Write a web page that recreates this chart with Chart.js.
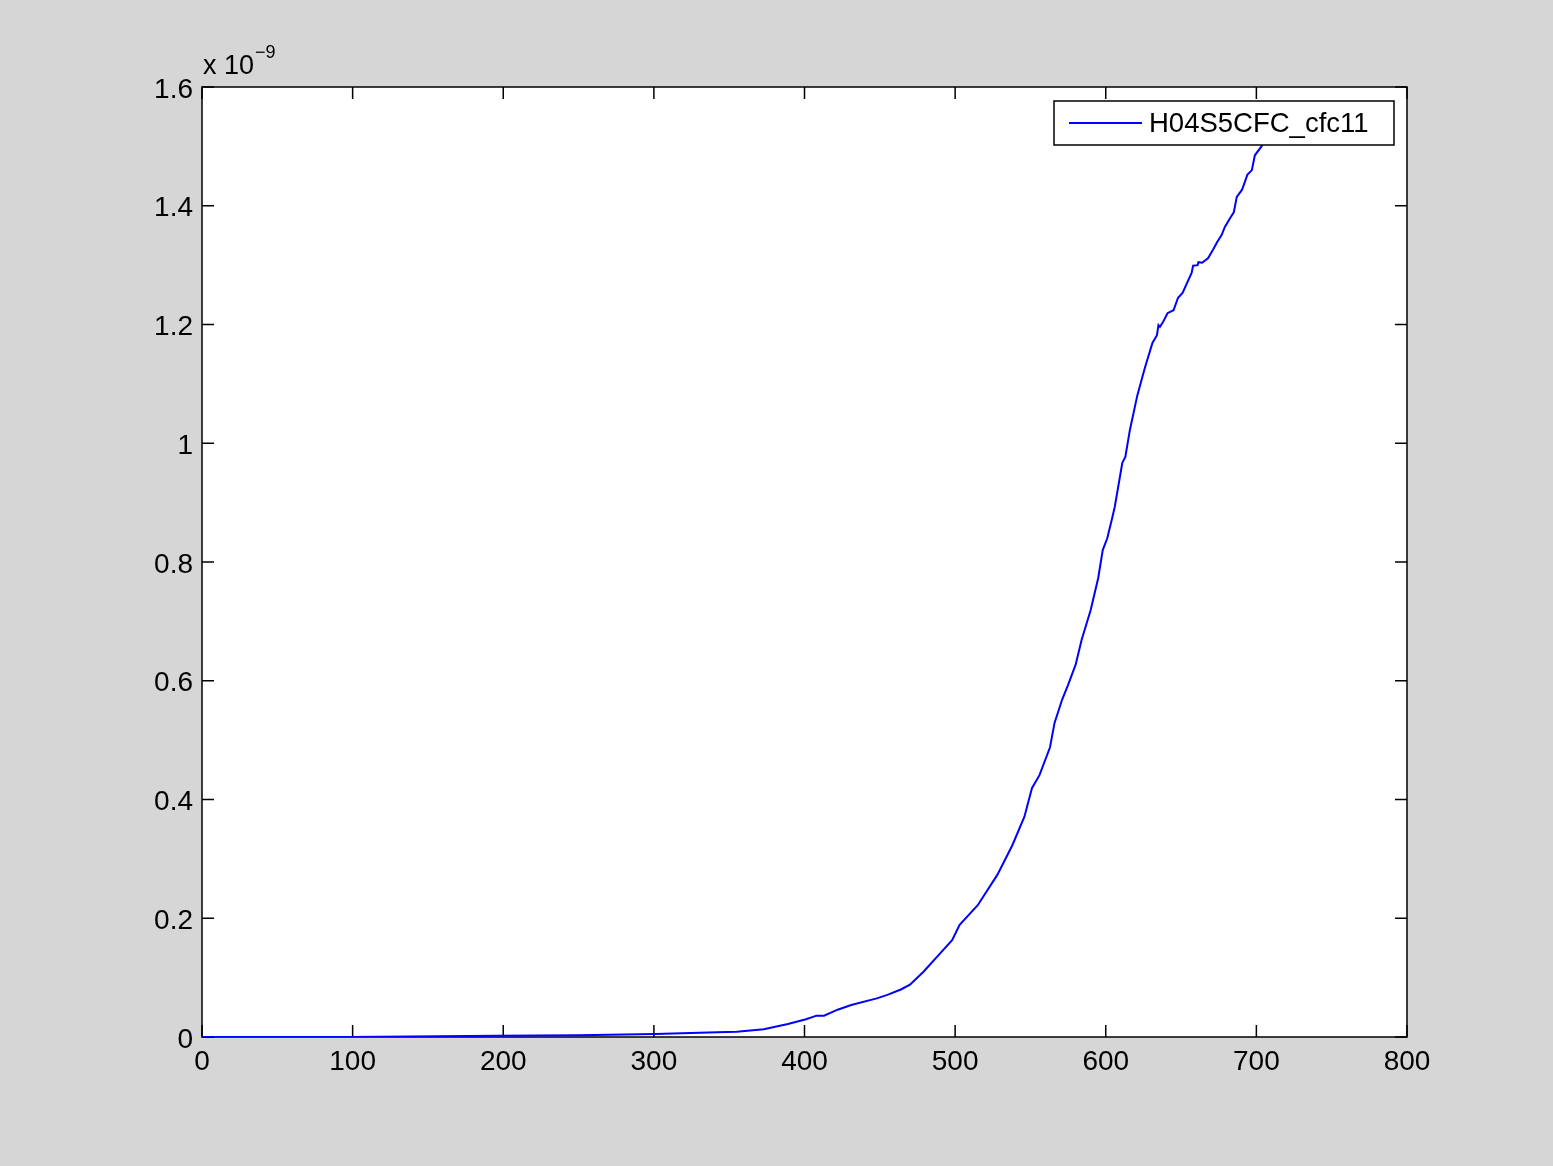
<!DOCTYPE html>
<html lang="en">
<head>
    <meta charset="UTF-8">
    <title>H04S5CFC_cfc11</title>
    <style>
        body {
            margin: 0;
            background: #d6d6d6;
        }
        #chart-container {
            width: 1553px;
            height: 1166px;
        }
    </style>
</head>
<body>
<div id="chart-container">
    <canvas id="cfcChart" width="1553" height="1166"></canvas>
</div>
<script src="https://cdn.jsdelivr.net/npm/chart.js"></script>
<script>
    // values (y in units of 1e-9)
    const seriesLabel = 'H04S5CFC_cfc11';
    const xValues = [0, 98, 196, 250, 301, 342, 355, 373, 389, 401, 408, 413, 422, 431, 448, 455, 464, 470,
        479, 489, 498, 503, 515, 528, 538, 546, 551, 556, 563, 566, 571, 575, 580, 584, 590, 595, 598, 601,
        604, 606, 611, 613, 616, 621, 626, 628, 631, 634, 635, 636, 638, 641, 645, 648, 651, 654, 657, 658,
        661, 661.5, 664, 668, 671, 674, 677, 679, 682.5, 685, 687, 690.5, 694, 697, 699, 704];
    const yValues = [0, 0, 0.002, 0.003, 0.005, 0.008, 0.009, 0.013, 0.022, 0.03, 0.036, 0.036, 0.046, 0.054,
        0.065, 0.071, 0.08, 0.088, 0.11, 0.138, 0.163, 0.189, 0.222, 0.273, 0.323, 0.371, 0.419, 0.441, 0.488,
        0.529, 0.568, 0.593, 0.627, 0.669, 0.719, 0.773, 0.82, 0.84, 0.871, 0.893, 0.967, 0.977, 1.022, 1.081,
        1.127, 1.144, 1.169, 1.182, 1.199, 1.196, 1.204, 1.219, 1.224, 1.245, 1.253, 1.27, 1.287, 1.299, 1.3,
        1.305, 1.304, 1.312, 1.325, 1.339, 1.351, 1.364, 1.379, 1.389, 1.415, 1.427, 1.452, 1.46, 1.485, 1.502];
    const xTicks = [0, 100, 200, 300, 400, 500, 600, 700, 800];
    const yTicks = [0, 0.2, 0.4, 0.6, 0.8, 1, 1.2, 1.4, 1.6];
    const yExponent = '-9';

    const fontFamily = '"Liberation Sans", Arial, Helvetica, sans-serif';
    const points = xValues.map((x, i) => ({x: x, y: yValues[i]}));

    // matlab style box: white axes, frame, inward ticks on all four sides, exponent and legend
    const matlabAxes = {
        id: 'matlabAxes',
        beforeDraw(chart) {
            const ctx = chart.ctx;
            const area = chart.chartArea;
            ctx.save();
            ctx.fillStyle = '#fff';
            ctx.fillRect(area.left, area.top, area.right - area.left, area.bottom - area.top);
            ctx.restore();
        },
        beforeDatasetsDraw(chart) {
            const ctx = chart.ctx;
            const area = chart.chartArea;
            const xs = chart.scales.x;
            const ys = chart.scales.y;
            const tickLen = 12;
            ctx.save();
            ctx.strokeStyle = '#000';
            ctx.lineWidth = 1.5;
            ctx.strokeRect(area.left, area.top, area.right - area.left, area.bottom - area.top);
            ctx.beginPath();
            xTicks.forEach(v => {
                const px = xs.getPixelForValue(v);
                ctx.moveTo(px, area.bottom);
                ctx.lineTo(px, area.bottom - tickLen);
                ctx.moveTo(px, area.top);
                ctx.lineTo(px, area.top + tickLen);
            });
            yTicks.forEach(v => {
                const py = ys.getPixelForValue(v);
                ctx.moveTo(area.left, py);
                ctx.lineTo(area.left + tickLen, py);
                ctx.moveTo(area.right, py);
                ctx.lineTo(area.right - tickLen, py);
            });
            ctx.stroke();
            ctx.restore();
        },
        afterDraw(chart) {
            const ctx = chart.ctx;
            const area = chart.chartArea;
            ctx.save();
            // exponent label
            ctx.fillStyle = '#000';
            ctx.textBaseline = 'alphabetic';
            ctx.textAlign = 'left';
            ctx.font = '27px ' + fontFamily;
            ctx.fillText('x 10', area.left + 1, area.top - 13);
            const w = ctx.measureText('x 10').width;
            ctx.font = '18px ' + fontFamily;
            ctx.fillText(yExponent.replace('-', '\u2212'), area.left + 2 + w, area.top - 29);

            // legend box
            const ds = chart.data.datasets[0];
            const boxLeft = 1054, boxTop = 101, boxRight = 1394, boxBottom = 145;
            ctx.fillStyle = '#fff';
            ctx.fillRect(boxLeft, boxTop, boxRight - boxLeft, boxBottom - boxTop);
            ctx.strokeStyle = '#000';
            ctx.lineWidth = 1.5;
            ctx.strokeRect(boxLeft, boxTop, boxRight - boxLeft, boxBottom - boxTop);
            ctx.strokeStyle = ds.borderColor;
            ctx.lineWidth = ds.borderWidth;
            ctx.beginPath();
            ctx.moveTo(1069, 123);
            ctx.lineTo(1142, 123);
            ctx.stroke();
            ctx.fillStyle = '#000';
            ctx.font = '27.5px ' + fontFamily;
            ctx.textBaseline = 'middle';
            ctx.fillText(ds.label, 1149, 124);
            ctx.restore();
        }
    };

    const ctx = document.getElementById('cfcChart').getContext('2d');
    const cfcChart = new Chart(ctx, {
        type: 'line',
        data: {
            datasets: [{
                label: seriesLabel,
                data: points,
                borderColor: '#0000ff',
                borderWidth: 2,
                pointRadius: 0,
                fill: false,
                tension: 0
            }]
        },
        options: {
            responsive: false,
            animation: false,
            layout: {
                padding: {left: 0, right: 146, top: 87, bottom: 0}
            },
            plugins: {
                legend: {display: false},
                tooltip: {enabled: false}
            },
            scales: {
                x: {
                    type: 'linear',
                    min: 0,
                    max: 800,
                    afterBuildTicks(scale) {
                        scale.ticks = xTicks.map(v => ({value: v}));
                    },
                    afterFit(scale) {
                        scale.height = 1166 - 1037;
                    },
                    grid: {display: false, drawTicks: false},
                    border: {display: false},
                    ticks: {
                        autoSkip: false,
                        maxRotation: 0,
                        padding: 8,
                        color: '#000',
                        font: {family: fontFamily, size: 28}
                    }
                },
                y: {
                    type: 'linear',
                    min: 0,
                    max: 1.6,
                    afterBuildTicks(scale) {
                        scale.ticks = yTicks.map(v => ({value: v}));
                    },
                    afterFit(scale) {
                        scale.width = 202;
                    },
                    grid: {display: false, drawTicks: false},
                    border: {display: false},
                    ticks: {
                        autoSkip: false,
                        padding: 9,
                        labelOffset: 3,
                        color: '#000',
                        font: {family: fontFamily, size: 28},
                        callback: v => String(Number(v.toFixed(1)))
                    }
                }
            }
        },
        plugins: [matlabAxes]
    });
</script>
</body>
</html>
